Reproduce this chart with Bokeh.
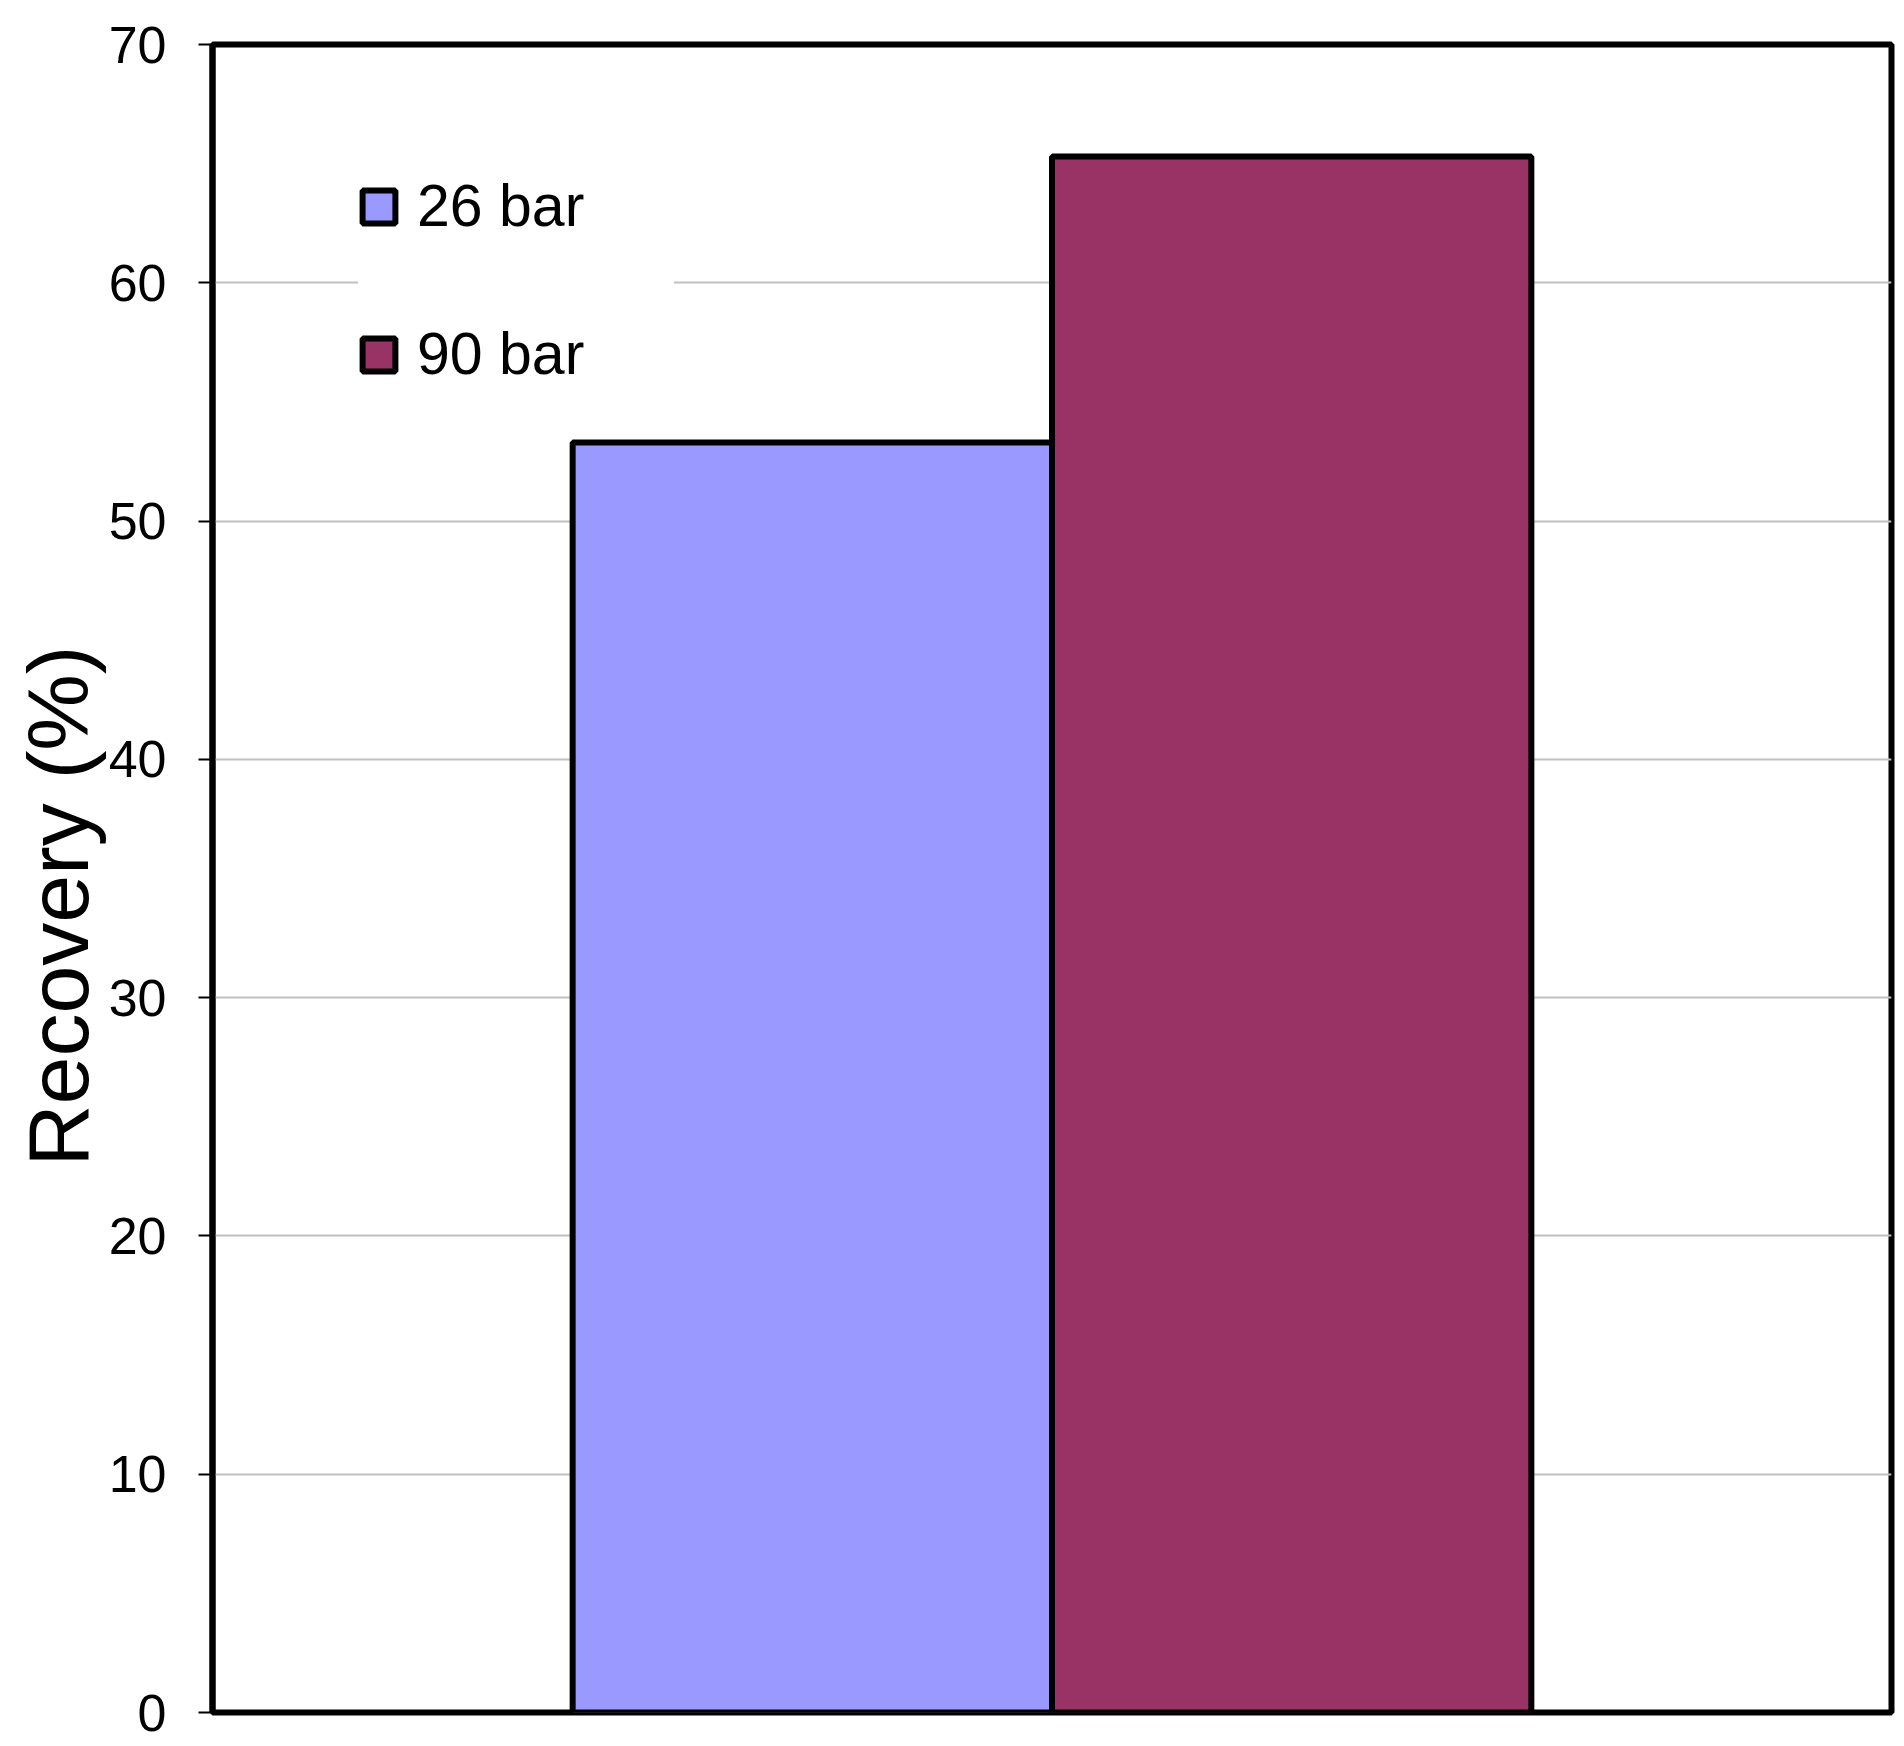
from bokeh.plotting import figure
from bokeh.models import FactorRange, Legend, LegendItem, FixedTicker, ColumnDataSource, Title
from bokeh.transform import dodge
from bokeh.embed import file_html
from bokeh.resources import INLINE

# Data
groups = ["Recovery"]
series_names = ["26 bar", "90 bar"]
recovery_26 = [53.3]
recovery_90 = [65.3]
y_ticks = [0, 10, 20, 30, 40, 50, 60, 70]
y_title = "Recovery (%)"
colors = ["#9999FF", "#993366"]

FONT = "Liberation Sans"

p = figure(x_range=FactorRange(factors=groups, range_padding=0), y_range=(0, 70),
           frame_width=1679, frame_height=1668,
           min_border_left=212, min_border_right=4, min_border_top=44, min_border_bottom=30,
           output_backend="svg", toolbar_location=None, tools="")

src = ColumnDataSource(dict(g=groups, a=recovery_26, b=recovery_90))
bw = 0.2855
r1 = p.vbar(x=dodge("g", -bw / 2, range=p.x_range), top="a", width=bw, source=src,
            fill_color=colors[0], line_color="black", line_width=6)
r2 = p.vbar(x=dodge("g", bw / 2, range=p.x_range), top="b", width=bw, source=src,
            fill_color=colors[1], line_color="black", line_width=6)

p.xaxis.visible = False
p.xgrid.visible = False
p.ygrid.grid_line_color = "#c0c0c0"
p.ygrid.grid_line_width = 2
p.ygrid.ticker = FixedTicker(ticks=y_ticks)

ya = p.yaxis[0]
ya.ticker = FixedTicker(ticks=y_ticks)
ya.major_label_text_font = FONT
ya.major_label_text_font_size = "52px"
ya.major_label_text_color = "black"
ya.major_tick_out = 14
ya.major_tick_in = 0
ya.major_tick_line_width = 2
ya.major_tick_line_color = "black"
ya.minor_tick_line_color = None
ya.major_label_standoff = 32
ya.axis_line_color = "black"
ya.axis_line_width = 6

title = Title(text=y_title, align="left", offset=546, text_font=FONT,
              text_font_size="86px", text_font_style="normal", text_color="black",
              standoff=0)
p.add_layout(title, "left")

p.outline_line_color = "black"
p.outline_line_width = 6
p.background_fill_color = "white"
p.border_fill_color = "white"

legend = Legend(items=[LegendItem(label=series_names[0], renderers=[r1]),
                       LegendItem(label=series_names[1], renderers=[r2])],
                location=(146, 1324), padding=0, margin=0, spacing=80,
                glyph_width=41, glyph_height=41, label_standoff=18, label_width=257,
                label_text_font=FONT, label_text_font_size="59px",
                label_text_color="black", label_text_baseline="middle",
                border_line_color=None, background_fill_color="white",
                background_fill_alpha=1.0)
p.add_layout(legend)

open("out.html", "w").write(file_html(p, INLINE))
